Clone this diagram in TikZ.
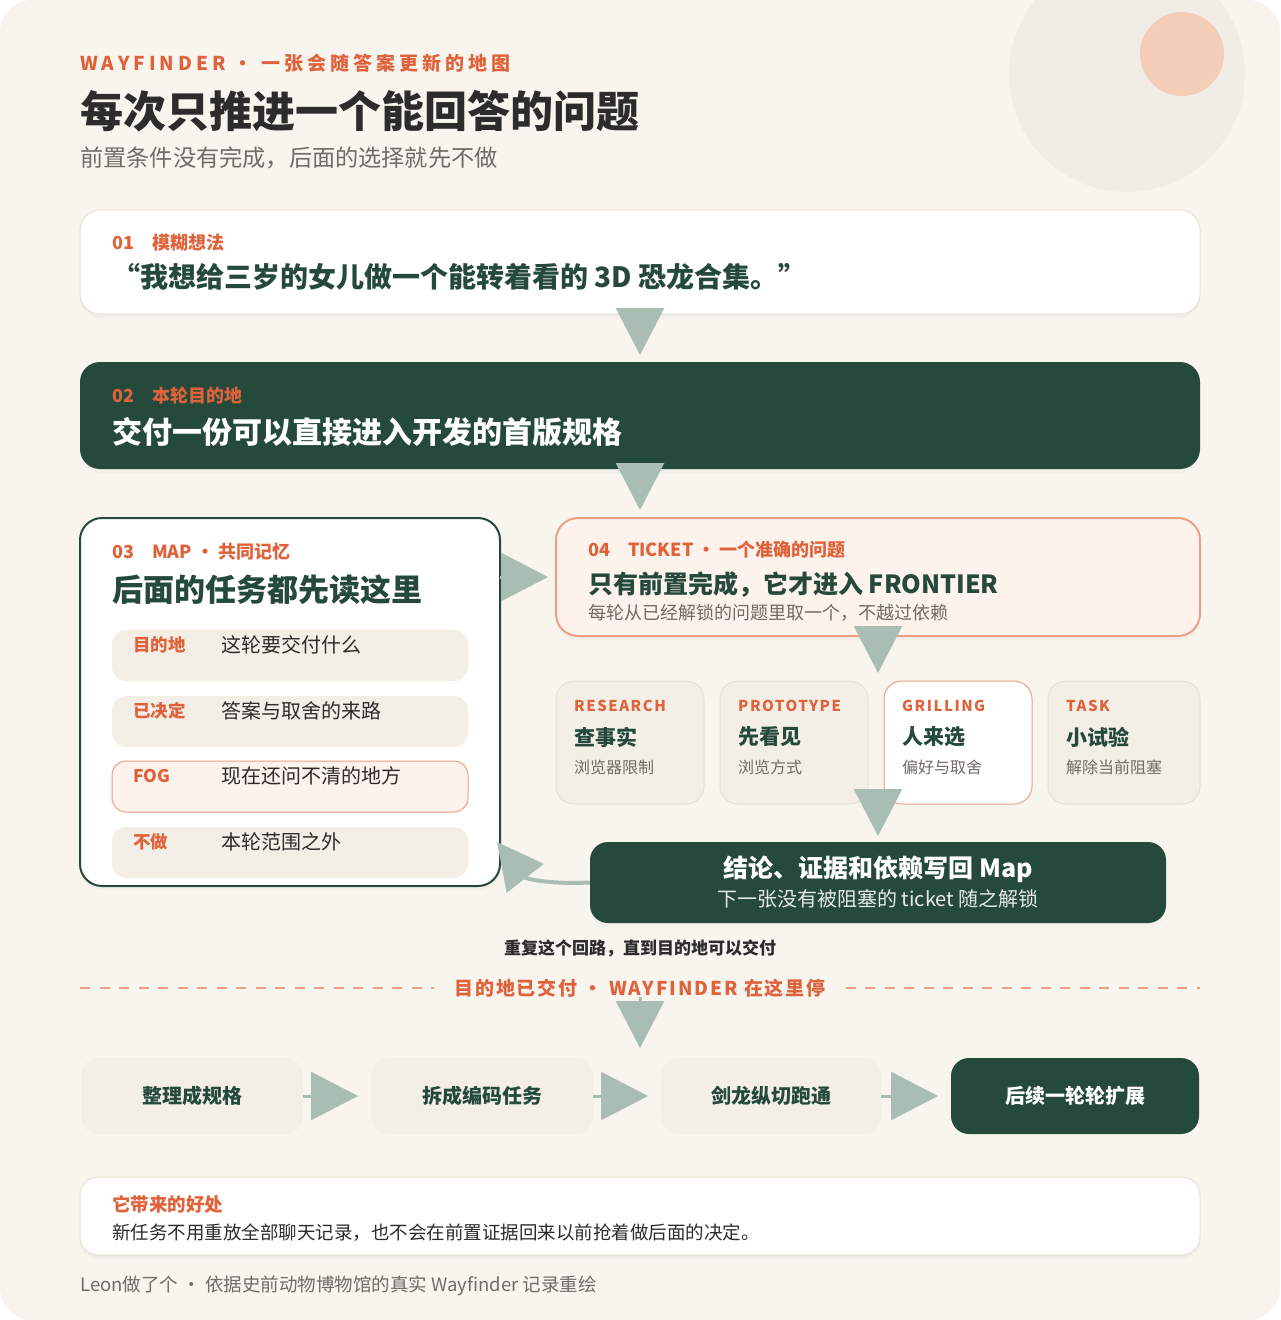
\documentclass[tikz,border=0pt]{standalone}
\usepackage{fontspec}
\setmainfont{Noto Sans CJK SC}
\newfontfamily\spaced[LetterSpace=21]{Noto Sans CJK SC}
\newfontfamily\kindfont[LetterSpace=10]{Noto Sans CJK SC}
\newfontfamily\airy[LetterSpace=10]{Noto Sans CJK SC}
\usetikzlibrary{arrows.meta,positioning,shadows}

\definecolor{paper}{HTML}{F8F5EF}
\definecolor{ember}{HTML}{E0623A}
\definecolor{pine}{HTML}{254A3B}
\definecolor{sage}{HTML}{A9BDB2}
\definecolor{sand}{HTML}{F3EFE7}
\definecolor{seam}{HTML}{E6E0D5}
\definecolor{blush}{HTML}{FDF2EC}
\definecolor{coral}{HTML}{EFA083}
\definecolor{ink}{HTML}{2C2C2C}
\definecolor{slate}{HTML}{6F6B66}
\definecolor{moon}{HTML}{F1EDE6}
\definecolor{sun}{HTML}{F3CDB8}

\newcommand{\pxfont}[1]{\fontsize{#1}{#1}\selectfont}

\tikzset{
  soft/.style={drop shadow={shadow xshift=0pt, shadow yshift=-4pt, opacity=0.05}},
  panel/.style={draw=seam, line width=1pt, fill=white, rounded corners=20pt, inner sep=0pt, outer sep=0pt, soft},
  darkpanel/.style={fill=pine, rounded corners=20pt, inner sep=0pt, outer sep=0pt, soft},
  row/.style={fill=sand, rounded corners=14pt, minimum width=356pt, minimum height=51pt, inner sep=0pt, outer sep=0pt},
  card/.style={draw=seam, line width=1pt, fill=sand, rounded corners=18pt, minimum width=148pt, minimum height=123pt, inner sep=0pt, outer sep=0pt},
  stage/.style={fill=sand, rounded corners=18pt, minimum height=76pt, inner sep=0pt, outer sep=0pt, text=pine, font=\pxfont{20}\bfseries},
  tag/.style={anchor=west, inner sep=0pt, text=ember, font=\pxfont{18}\bfseries},
  headline/.style={anchor=west, inner sep=0pt, text=pine, font=\pxfont{27}\bfseries},
  note/.style={anchor=west, inner sep=0pt, text=slate, font=\pxfont{18}},
  key/.style={anchor=west, inner sep=0pt, text=ember, font=\pxfont{17.5}\bfseries},
  val/.style={anchor=west, inner sep=0pt, text=ink, font=\pxfont{20}},
  kind/.style={anchor=west, inner sep=0pt, text=ember, font=\kindfont\pxfont{15}\bfseries},
  cardtitle/.style={anchor=west, inner sep=0pt, text=pine, font=\pxfont{21}\bfseries},
  cardnote/.style={anchor=west, inner sep=0pt, text=slate, font=\pxfont{16}},
  flow/.style={draw=sage, line width=3pt, -{Triangle[length=47pt,width=48pt]}},
  backflow/.style={draw=sage, line width=4pt, -{Triangle[length=46pt,width=46pt]}}
}

\begin{document}
\begin{tikzpicture}[x=1pt,y=-1pt]
\useasboundingbox (0,0) rectangle (1280,1320);
\fill[white] (0,0) rectangle (1280,1320);
\fill[paper, rounded corners=32pt] (0,0) rectangle (1280,1320);
\begin{scope}
\clip[rounded corners=32pt] (0,0) rectangle (1280,1320);
\fill[moon] (1127,74) circle[radius=118pt];
\end{scope}
\fill[sun] (1182,54) circle[radius=42pt];

\node[anchor=west, inner sep=0pt, text=ember, font=\spaced\pxfont{19}\bfseries] (kicker) at (80,63) {WAYFINDER · 一张会随答案更新的地图};
\node[anchor=west, inner sep=0pt, text=ink, font=\pxfont{43}\bfseries] (title) at (80,111) {每次只推进一个能回答的问题};
\node[anchor=west, inner sep=0pt, text=slate, font=\pxfont{23.2}] (subtitle) at (80,158) {前置条件没有完成，后面的选择就先不做};

\node[panel, minimum width=1120pt, minimum height=104pt] (idea) at (640,262) {};
\node[tag] (ideatag) at (112,243) {01\hspace{1em}模糊想法};
\node[headline, font=\pxfont{28}\bfseries] (ideatext) at (112,277) {“我想给三岁的女儿做一个能转着看的 3D 恐龙合集。”};

\node[darkpanel, minimum width=1120pt, minimum height=107pt] (dest) at (640,415.5) {};
\node[tag] (desttag) at (112,396) {02\hspace{1em}本轮目的地};
\node[headline, text=white, font=\pxfont{30}\bfseries] (desttext) at (112,432) {交付一份可以直接进入开发的首版规格};

\node[panel, draw=pine, line width=2pt, rounded corners=22pt, minimum width=420pt, minimum height=368pt] (map) at (290,702) {};
\node[tag] (maptag) at (112,552) {03\hspace{1em}MAP · 共同记忆};
\node[headline, font=\pxfont{31}\bfseries] (maptitle) at (112,590) {后面的任务都先读这里};

\node[row] (row1) at (290,655.5) {};
\node[key] (key1) at ([shift={(21,-10.5)}]row1.west) {目的地};
\node[val] (val1) at ([shift={(109,-10.5)}]row1.west) {这轮要交付什么};
\node[row] (row2) at (290,721.5) {};
\node[key] (key2) at ([shift={(21,-10.5)}]row2.west) {已决定};
\node[val] (val2) at ([shift={(109,-10.5)}]row2.west) {答案与取舍的来路};
\node[row, fill=blush, draw=coral, line width=1pt] (row3) at (290,786.5) {};
\node[key] (key3) at ([shift={(21,-10.5)}]row3.west) {FOG};
\node[val] (val3) at ([shift={(109,-10.5)}]row3.west) {现在还问不清的地方};
\node[row] (row4) at (290,852.5) {};
\node[key] (key4) at ([shift={(21,-10.5)}]row4.west) {不做};
\node[val] (val4) at ([shift={(109,-10.5)}]row4.west) {本轮范围之外};

\node[panel, fill=blush, draw=coral, line width=2pt, rounded corners=22pt, minimum width=644pt, minimum height=118pt] (ticket) at (878,577) {};
\node[tag] (tickettag) at (588,550) {04\hspace{1em}TICKET · 一个准确的问题};
\node[headline, font=\pxfont{25}\bfseries] (tickettext) at (588,585) {只有前置完成，它才进入 FRONTIER};
\node[note] (ticketnote) at (588,613) {每轮从已经解锁的问题里取一个，不越过依赖};

\node[card] (research) at (630,742.5) {};
\node[kind] at ([shift={(18,-36.5)}]research.west) {RESEARCH};
\node[cardtitle] at ([shift={(18,-5.5)}]research.west) {查事实};
\node[cardnote] at ([shift={(18,24.5)}]research.west) {浏览器限制};
\node[card] (prototype) at (794,742.5) {};
\node[kind] at ([shift={(18,-36.5)}]prototype.west) {PROTOTYPE};
\node[cardtitle] at ([shift={(18,-5.5)}]prototype.west) {先看见};
\node[cardnote] at ([shift={(18,24.5)}]prototype.west) {浏览方式};
\node[card, fill=white, draw=coral] (grilling) at (958,742.5) {};
\node[kind] at ([shift={(18,-36.5)}]grilling.west) {GRILLING};
\node[cardtitle] at ([shift={(18,-5.5)}]grilling.west) {人来选};
\node[cardnote] at ([shift={(18,24.5)}]grilling.west) {偏好与取舍};
\node[card, minimum width=152pt] (task) at (1124,742.5) {};
\node[kind] at ([shift={(18,-36.5)}]task.west) {TASK};
\node[cardtitle] at ([shift={(18,-5.5)}]task.west) {小试验};
\node[cardnote] at ([shift={(18,24.5)}]task.west) {解除当前阻塞};

\node[darkpanel, rounded corners=18pt, minimum width=576pt, minimum height=81pt] (result) at (878,882.5) {};
\node[inner sep=0pt, text=white, font=\pxfont{25}\bfseries] (resulttext) at (878,869) {结论、证据和依赖写回 Map};
\node[inner sep=0pt, text=white!88!pine, font=\pxfont{20}] (resultnote) at (878,899) {下一张没有被阻塞的 ticket 随之解锁};
\coordinate (back) at ([shift={(-3,140)}]map.east);

\node[inner sep=0pt, text=ink, font=\pxfont{17}\bfseries] (repeat) at (640,948) {重复这个回路，直到目的地可以交付};

\node[fill=paper, inner xsep=20pt, inner ysep=0pt, text=ember, font=\airy\pxfont{19}\bfseries] (stop) at (640,988) {目的地已交付 · WAYFINDER 在这里停};
\draw[coral, line width=2pt, dash pattern=on 10pt off 9.5pt] (80,988) -- (stop.west);
\draw[coral, line width=2pt, dash pattern=on 10pt off 9.5pt] (stop.east) -- (1200,988);

\node[stage, minimum width=222pt] (spec) at (192,1096) {整理成规格};
\node[stage, minimum width=222pt] (split) at (482,1096) {拆成编码任务};
\node[stage, minimum width=220pt] (slice) at (771,1096) {剑龙纵切跑通};
\node[stage, fill=pine, text=white, minimum width=248pt] (expand) at (1075,1096) {后续一轮轮扩展};

\node[panel, rounded corners=18pt, minimum width=1120pt, minimum height=78pt] (gain) at (640,1216) {};
\node[tag, font=\pxfont{18.5}\bfseries] (gaintag) at (112,1204) {它带来的好处};
\node[anchor=west, inner sep=0pt, text=ink, font=\pxfont{18.5}] (gaintext) at (112,1233) {新任务不用重放全部聊天记录，也不会在前置证据回来以前抢着做后面的决定。};

\node[anchor=west, inner sep=0pt, text=slate, font=\pxfont{18.5}] (credit) at (80,1286) {Leon做了个 · 依据史前动物博物馆的真实 Wayfinder 记录重绘};

\draw[flow, shorten <=-6pt, shorten >=7pt] (idea.south) -- (dest.north);
\draw[flow, shorten <=-6pt, shorten >=8pt] (dest.south) -- (dest.south |- ticket.north);
\draw[flow, shorten >=8pt] (map.east |- ticket.west) -- (ticket.west);
\draw[flow, shorten <=-9pt, shorten >=8pt] (ticket.south) -- (ticket.south |- grilling.north);
\draw[flow, shorten <=-15pt, shorten >=6pt] (result.north |- grilling.south) -- (result.north);
\draw[backflow] (result.west) .. controls +(-45,2) and +(28,36) .. (back);
\draw[flow, shorten >=10pt] (stop.south) -- (stop.south |- split.north);
\draw[flow, shorten >=13pt] (spec.east) -- (split.west);
\draw[flow, shorten >=13pt] (split.east) -- (slice.west);
\draw[flow, shorten >=13pt] (slice.east) -- (expand.west);
\end{tikzpicture}
\end{document}
